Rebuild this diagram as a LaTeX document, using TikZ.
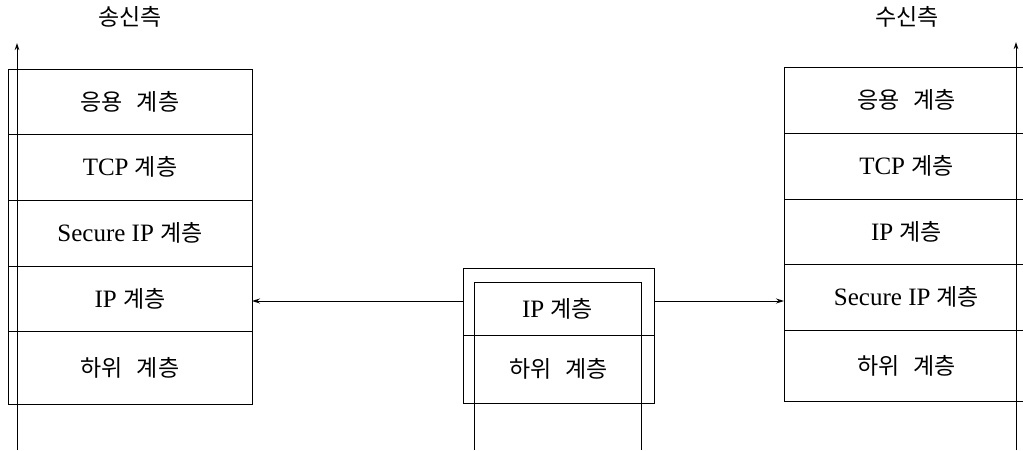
\documentclass[tikz,border=0pt]{standalone}
\usepackage{fontspec}
\setmainfont{Liberation Serif}
\newfontfamily\kr{Noto Sans CJK KR}
\newcommand{\ko}[1]{{\kr\fontsize{23}{25}\selectfont #1}}
\newcommand{\kgap}{\hspace{14pt}}
\usetikzlibrary{arrows.meta}
\begin{document}
\begin{tikzpicture}[x=1pt,y=-1pt,
  every node/.style={inner sep=0pt, outer sep=0pt, font=\fontsize{25}{28}\selectfont},
  layer/.style={draw, line width=1pt, minimum width=#1, minimum height=66pt, anchor=north west},
  plain/.style={line width=1pt},
  axis/.style={line width=1pt, -{Stealth[length=7pt,width=4.5pt]}},
  link/.style={line width=1pt, -{Stealth[length=8pt,width=5pt]}}]
\useasboundingbox (0,0) rectangle (1023,450);
\clip (0,0) rectangle (1023,450);
% titles
\node (tl) at (130,17) {\ko{송신측}};
\node (tr) at (907,17) {\ko{수신측}};
% left stack
\node[layer=244pt, minimum height=65pt] (l1) at (8,69) {\ko{응용\kgap 계층}};
\node[layer=244pt] (l2) at (8,134) {TCP \ko{계층}};
\node[layer=244pt] (l3) at (8,200) {Secure IP \ko{계층}};
\node[layer=244pt, minimum height=65pt] (l4) at (8,266) {IP \ko{계층}};
\node[layer=244pt, minimum height=73pt] (l5) at (8,331) {\ko{하위\kgap 계층}};
% right stack
\node[layer=245pt] (r1) at (784,67) {\ko{응용\kgap 계층}};
\node[layer=245pt] (r2) at (784,133) {TCP \ko{계층}};
\node[layer=245pt, minimum height=65pt] (r3) at (784,199) {IP \ko{계층}};
\node[layer=245pt] (r4) at (784,264) {Secure IP \ko{계층}};
\node[layer=245pt, minimum height=71pt] (r5) at (784,330) {\ko{하위\kgap 계층}};
% middle
\node[draw, line width=1pt, minimum width=191pt, minimum height=135pt, anchor=north west] (mo) at (463,268) {};
\node[draw, line width=1pt, minimum width=167pt, minimum height=53pt, anchor=north west] (m1) at (474,282) {IP \ko{계층}};
\node[minimum width=191pt, minimum height=68pt, anchor=north west] (m2) at (463,335) {\ko{하위\kgap 계층}};
\coordinate (m1b) at (474,450);
\coordinate (m2b) at (641,450);
\draw[plain] (m2.north west) -- (m2.north east);
\draw[plain] (m1.north west) -- (m1.north west |- m1b);
\draw[plain] (m1.north east) -- (m1.north east |- m2b);
% axes
\coordinate (la0) at (17,450);
\coordinate (la1) at (17,43);
\coordinate (ra0) at (1016,450);
\coordinate (ra1) at (1016,42);
\draw[axis] (la0) -- (la1);
\draw[axis] (ra0) -- (ra1);
% connectors
\coordinate (ml) at (463,301);
\coordinate (mr) at (654,301);
\draw[link] (ml) -- (ml -| l4.east);
\draw[link] (mr) -- (mr -| r4.west);
\end{tikzpicture}
\end{document}
